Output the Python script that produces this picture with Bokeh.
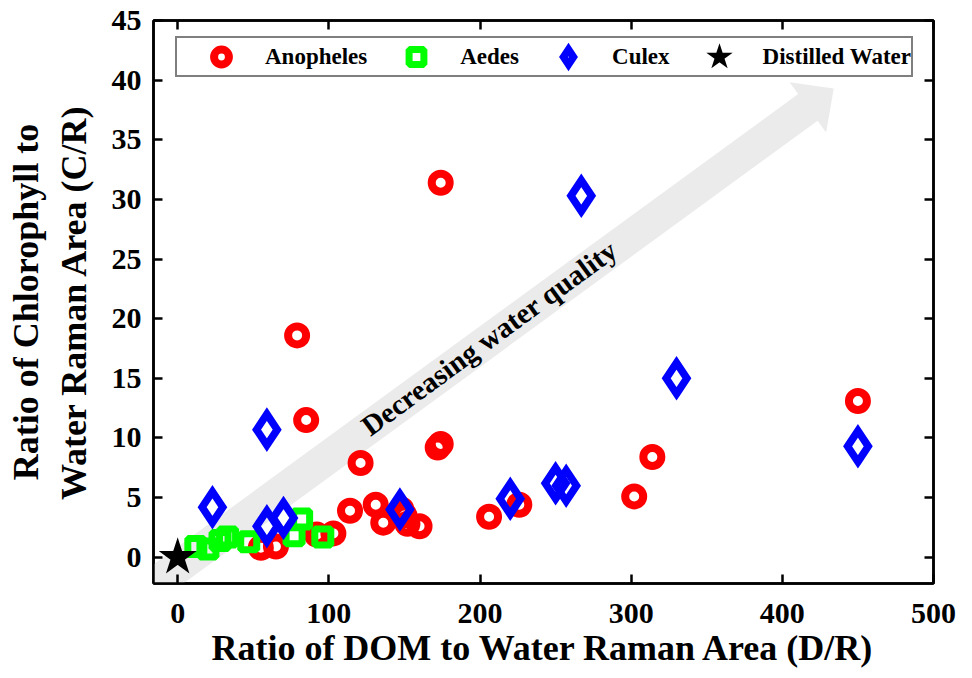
import math
from bokeh.plotting import figure
from bokeh.models import LinearAxis, FixedTicker, Legend, LegendItem, Label
from bokeh.embed import file_html
from bokeh.resources import INLINE

# ---- data ----
anopheles_x = [55, 65, 79, 85, 92, 103, 114, 121, 131, 136, 148, 150, 152, 160, 172, 174, 174, 206, 226, 302, 314, 450]
anopheles_y = [0.8, 0.9, 18.6, 11.5, 1.9, 2.0, 3.9, 7.9, 4.4, 2.9, 4.0, 3.5, 2.8, 2.6, 9.2, 9.5, 31.4, 3.4, 4.4, 5.1, 8.4, 13.1]

aedes_x = [12, 20, 28, 33, 47, 77, 82, 96]
aedes_y = [0.9, 0.7, 1.4, 1.7, 1.3, 1.8, 3.2, 1.7]

culex_x = [23, 59, 59, 70, 147, 220, 250, 257, 267, 330, 450]
culex_y = [4.2, 10.7, 2.6, 3.3, 4.0, 4.9, 6.2, 6.0, 30.3, 15.0, 9.3]

water_x = [0]
water_y = [0]

x_ticks = [0, 100, 200, 300, 400, 500]
y_ticks = [0, 5, 10, 15, 20, 25, 30, 35, 40, 45]

X_RANGE = (-16, 500)
Y_RANGE = (-2.2, 45)

# ---- layout ----
W, H = 970, 678
BL, BT = 153, 20
BR = W - 933
BB = H - 583
FONT = "Liberation Serif"

p = figure(width=W, height=H, x_range=X_RANGE, y_range=Y_RANGE,
           output_backend="svg", toolbar_location=None,
           min_border_left=BL, min_border_right=BR,
           min_border_top=BT, min_border_bottom=BB,
           background_fill_color="white", border_fill_color="white")
p.xgrid.grid_line_color = None
p.ygrid.grid_line_color = None
p.outline_line_color = "black"
p.outline_line_width = 2.5

# ---- arrow annotation (light grey band) ----
fw = W - BL - BR
fh = H - BT - BB
kx = fw / (X_RANGE[1] - X_RANGE[0])
ky = fh / (Y_RANGE[1] - Y_RANGE[0])
arrow_start = (-24.5, -3.1)
arrow_tip = (434, 39.3)
shaft_w, head_w, head_len = 33, 62, 32
sx0, sy0 = arrow_start[0] * kx, arrow_start[1] * ky
tx, ty = arrow_tip[0] * kx, arrow_tip[1] * ky
L = math.hypot(tx - sx0, ty - sy0)
ux, uy = (tx - sx0) / L, (ty - sy0) / L
nx, ny = -uy, ux
bx, by = tx - ux * head_len, ty - uy * head_len
poly = [
    (sx0 + nx * shaft_w / 2, sy0 + ny * shaft_w / 2),
    (bx + nx * shaft_w / 2, by + ny * shaft_w / 2),
    (bx + nx * head_w / 2, by + ny * head_w / 2),
    (tx, ty),
    (bx - nx * head_w / 2, by - ny * head_w / 2),
    (bx - nx * shaft_w / 2, by - ny * shaft_w / 2),
    (sx0 - nx * shaft_w / 2, sy0 - ny * shaft_w / 2),
]
p.patch([q[0] / kx for q in poly], [q[1] / ky for q in poly],
        fill_color="#ebebeb", line_color=None)

p.add_layout(Label(x=206, y=18.4, text="Decreasing water quality", angle=0.632,
                   text_align="center", text_baseline="middle",
                   text_font=FONT, text_font_style="bold",
                   text_font_size="29px", text_color="black"))

# ---- data marks ----
r_a = p.scatter(anopheles_x, anopheles_y, marker="circle", size=18,
                fill_color=None, line_color="#ff0000", line_width=8)
r_ae = p.scatter(aedes_x, aedes_y, marker="square", size=16,
                 fill_color=None, line_color="#00ff00", line_width=7)
r_c = p.scatter(culex_x, culex_y, marker="diamond", size=31,
                fill_color=None, line_color="#0000ff", line_width=7.5,
                line_join="miter")
r_w = p.scatter(water_x, water_y, marker="star", size=27,
                fill_color="black", line_color="black", line_width=4,
                line_join="miter")

# ---- axes ----
xb = p.below[0]
yl = p.left[0]
xb.ticker = FixedTicker(ticks=x_ticks)
yl.ticker = FixedTicker(ticks=y_ticks)
xt = LinearAxis(ticker=FixedTicker(ticks=x_ticks),
                major_label_overrides={t: "" for t in x_ticks})
yr = LinearAxis(ticker=FixedTicker(ticks=y_ticks),
                major_label_overrides={t: "" for t in y_ticks})
p.add_layout(xt, "above")
p.add_layout(yr, "right")

for ax in (xb, yl, xt, yr):
    ax.axis_line_color = "black"
    ax.axis_line_width = 2.5
    ax.major_tick_line_color = "black"
    ax.major_tick_line_width = 2.5
    ax.major_tick_in = 9
    ax.major_tick_out = 0
    ax.minor_tick_line_color = None
    ax.major_label_text_font = FONT
    ax.major_label_text_font_style = "bold"
    ax.major_label_text_font_size = "30px"
    ax.major_label_text_color = "black"
    ax.axis_label_text_font = FONT
    ax.axis_label_text_font_style = "bold"
    ax.axis_label_text_font_size = "36px"
    ax.axis_label_text_color = "black"

for ax in (xt, yr):
    ax.major_label_text_font_size = "2px"
    ax.major_label_standoff = 0

xb.axis_label = "Ratio of DOM to Water Raman Area (D/R)"
xb.major_label_standoff = 20
xb.axis_label_standoff = 2
yl.axis_label = "Ratio of Chlorophyll to\nWater Raman Area (C/R)"
yl.major_label_standoff = 12
yl.axis_label_standoff = 15

# ---- legend ----
legend = Legend(items=[
    LegendItem(label="Anopheles", renderers=[r_a]),
    LegendItem(label="Aedes", renderers=[r_ae]),
    LegendItem(label="Culex", renderers=[r_c]),
    LegendItem(label="Distilled Water", renderers=[r_w]),
], location=(22, 506), orientation="horizontal", margin=0, padding=0,
    glyph_width=88, glyph_height=37, label_height=37, label_standoff=0,
    spacing=5, border_line_color="black", border_line_width=2.5,
    background_fill_color="white", background_fill_alpha=1.0,
    label_text_font=FONT, label_text_font_style="bold",
    label_text_font_size="23px", label_text_color="black",
    label_text_baseline="middle")
p.add_layout(legend)

open("out.html", "w").write(file_html(p, INLINE))
